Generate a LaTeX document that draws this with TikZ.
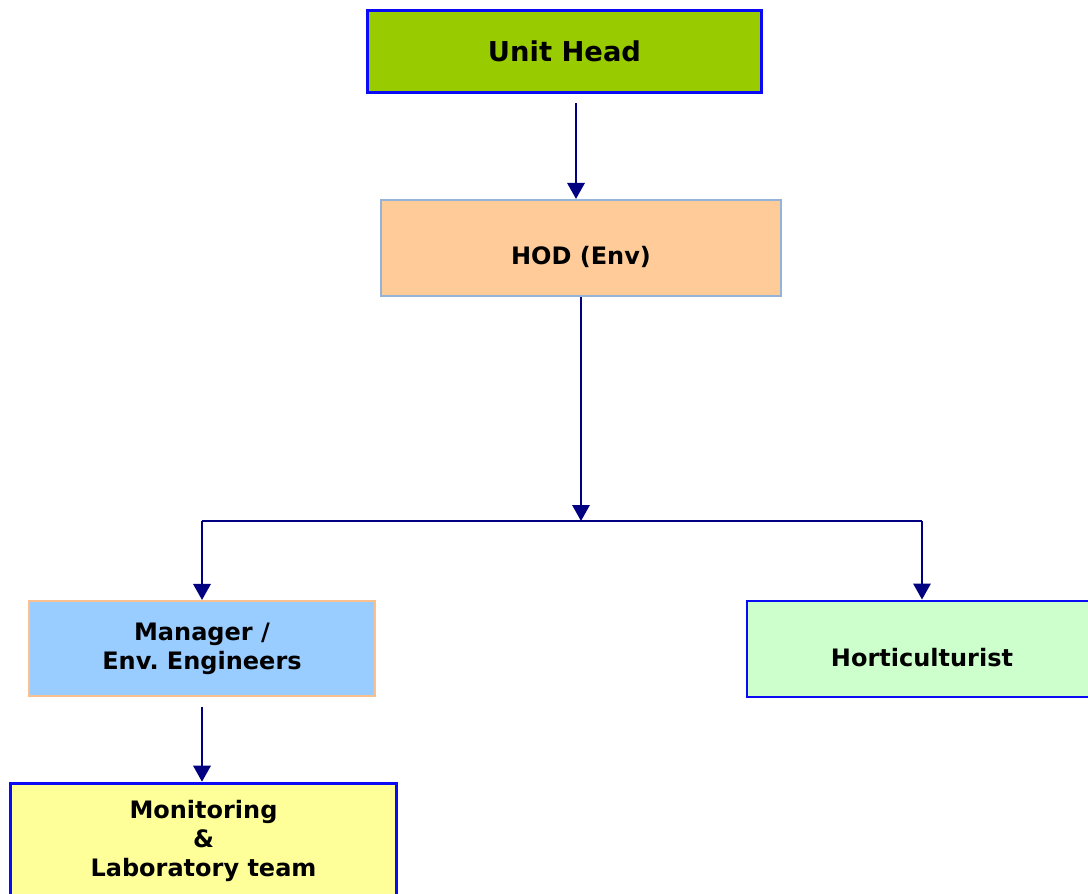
\documentclass[tikz,border=0pt]{standalone}
\usepackage{fontspec}
\setmainfont{DejaVu Sans}
\frenchspacing
\usetikzlibrary{
  arrows.meta,
  positioning
}
\definecolor{orgHead}{HTML}{99CC00}
\definecolor{orgHod}{HTML}{FFCC99}
\definecolor{orgManager}{HTML}{99CCFF}
\definecolor{orgHort}{HTML}{CCFFCC}
\definecolor{orgTeam}{HTML}{FFFF99}
\definecolor{orgNavy}{HTML}{000080}
\definecolor{orgBlue}{HTML}{0A0AF5}
\definecolor{orgPale}{HTML}{95B3D7}
\definecolor{orgPeach}{HTML}{FAC090}
\tikzset{
  orgBox/.style={
    draw=orgBlue,
    line width=2.2pt,
    inner sep=0pt,
    align=center,
    font=\fontsize{18}{21.75}\selectfont\bfseries
  },
  lowered/.style={text height=27pt},
  orgLink/.style={
    orgNavy,
    line width=1.6pt,
    -{Triangle[length=12pt, width=13pt]}
  },
  orgWire/.style={orgNavy, line width=1.6pt}
}
\begin{document}
\begin{tikzpicture}[x=0.75pt,y=-0.75pt]
  \useasboundingbox (0,0) rectangle (1088,893);
  \clip (0,0) rectangle (1088,893);

  \node[orgBox, fill=orgHead, minimum width=296pt, minimum height=62pt,
    font=\fontsize{20.5}{24}\selectfont\bfseries]
    (head) at (564.5,51.5) {Unit Head};
  \node[orgBox, lowered, fill=orgHod, draw=orgPale, line width=1.6pt,
    minimum width=300pt, minimum height=72pt]
    (hod) at (581,248) {HOD (Env)};
  \node[orgBox, fill=orgManager, draw=orgPeach, line width=1.8pt,
    minimum width=259.5pt, minimum height=71pt]
    (manager) at (202,648.5) {Manager /\\Env. Engineers};
  \node[orgBox, lowered, fill=orgHort, minimum width=262.5pt, minimum height=72pt]
    (hort) at (922,649) {Horticulturist};
  \node[orgBox, fill=orgTeam, minimum width=290pt, minimum height=86pt]
    (team) at (203.5,840.5) {Monitoring\\\&\\Laboratory team};

  % reporting lines
  \coordinate (headFoot) at (576,103);
  \coordinate (split) at (hod.south |- 0,521);
  \draw[orgLink] (headFoot) -- (headFoot |- hod.north);
  \draw[orgLink] (hod.south) -- (split);
  \draw[orgWire] (manager.north |- split) -- (hort.north |- split);
  \draw[orgLink] (manager.north |- split) -- (manager.north);
  \draw[orgLink] (hort.north |- split) -- (hort.north);
  \draw[orgLink] ([yshift=-7.5pt]manager.south) -- (manager.south |- team.north);
\end{tikzpicture}
\end{document}
